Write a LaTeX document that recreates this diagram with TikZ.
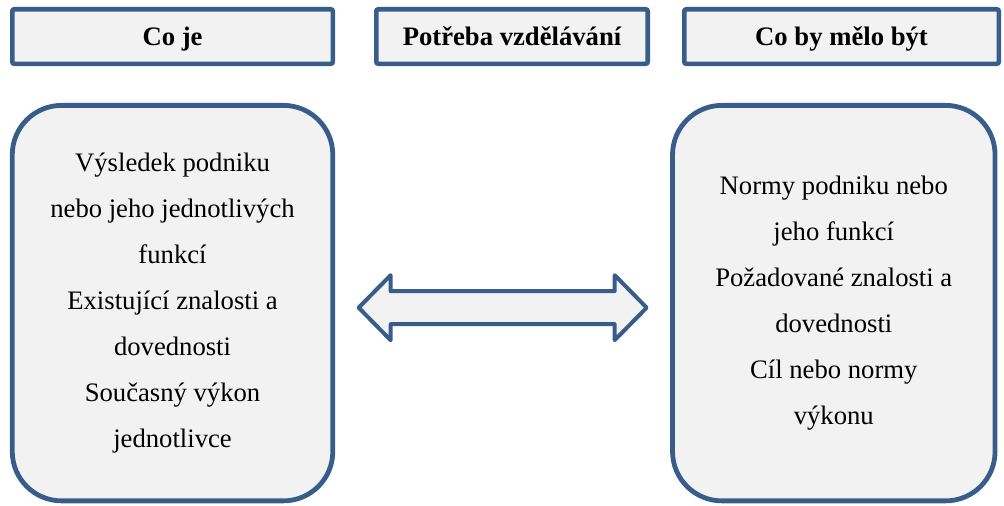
\documentclass[tikz,border=0pt]{standalone}
\usepackage{fontspec}
\setmainfont{Liberation Serif}
\usetikzlibrary{positioning,calc}
\definecolor{boxblue}{RGB}{56,93,138}
\definecolor{boxfill}{RGB}{242,242,242}

\begin{document}
\begin{tikzpicture}[node distance=28pt,
	head node/.style={rectangle,draw=boxblue,fill=boxfill,line width=3.4pt,rounded corners=1.5pt,minimum height=40.9pt,text height=13.2pt,text depth=0pt,font=\fontsize{20}{24}\selectfont\bfseries},
	list node/.style={rectangle,draw=boxblue,fill=boxfill,line width=3.6pt,rounded corners=37pt,minimum height=296.6pt,align=center,font=\fontsize{20}{34.5}\selectfont},
	swap arrow/.style={draw=boxblue,fill=boxfill,line width=3pt,line join=round}]
	\useasboundingbox (0,0) rectangle (753pt,-379.5pt);

	\node[head node,minimum width=240.4pt] (CoJe)		at (129.4pt,-27.4pt)	{Co je};
	\node[head node,minimum width=203.6pt] (Potreba)	[right=29.2pt of CoJe]	{Potřeba vzdělávání};
	\node[head node,minimum width=235.9pt] (CoBy)		[right=24pt of Potreba]	{Co by mělo být};

	\node[list node,minimum width=240.4pt] (Stav)	[below=27.7pt of CoJe]	{Výsledek podniku\\nebo jeho jednotlivých\\funkcí\\Existující znalosti a\\dovednosti\\Současný výkon\\jednotlivce};
	\node[list node,minimum width=241.9pt] (Cil)	[right=251.2pt of Stav]	{Normy podniku nebo\\jeho funkcí\\Požadované znalosti a\\dovednosti\\Cíl nebo normy\\výkonu};

	% double arrow between the two boxes
	\coordinate (Mezi) at ($(Stav.east)!0.5!(Cil.west)+(0,-3.4pt)$);
	\draw[swap arrow,shift={(Mezi)}] (-108pt,0) -- (-84pt,24.4pt) -- (-84pt,12.4pt) -- (84pt,12.4pt) -- (84pt,24.4pt) -- (108pt,0)
		-- (84pt,-24.4pt) -- (84pt,-12.4pt) -- (-84pt,-12.4pt) -- (-84pt,-24.4pt) -- cycle;
\end{tikzpicture}
\end{document}
